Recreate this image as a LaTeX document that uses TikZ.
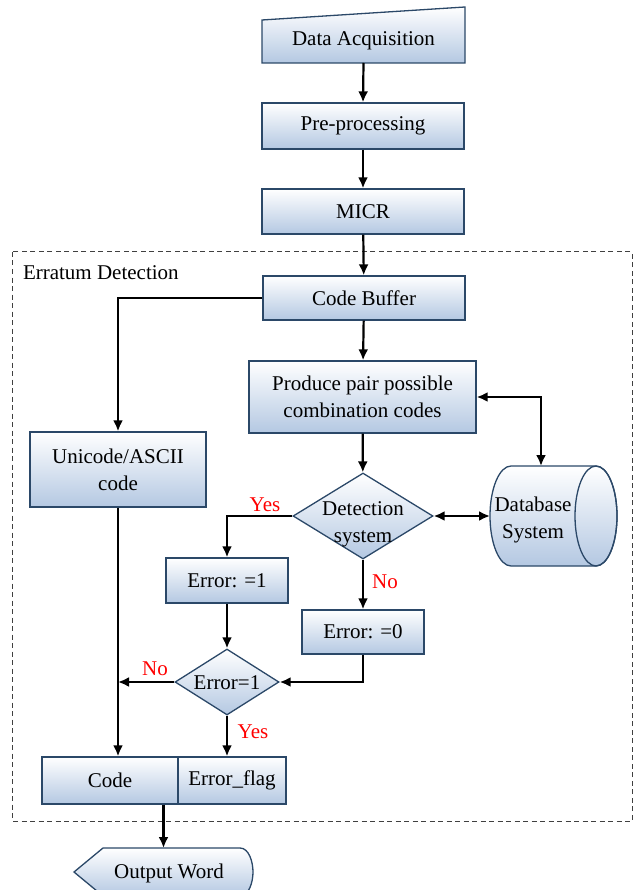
\documentclass[tikz,border=0pt]{standalone}
\usepackage{fontspec}
\setmainfont{Liberation Serif}
\usetikzlibrary{arrows.meta,shapes.geometric}
\definecolor{bord}{HTML}{2B4868}
\definecolor{fillb}{HTML}{B4C8E2}
\definecolor{dashc}{HTML}{404040}
\begin{document}
\begin{tikzpicture}[x=1pt,y=-1pt,
  font=\fontsize{21}{27}\selectfont,
  box/.style={draw=bord, line width=1.3pt, top color=white, bottom color=fillb, inner sep=0pt, align=center},
  ghost/.style={inner sep=0pt, outer sep=0pt},
  arr/.style={line width=2.2pt, -{Latex[length=11pt,width=10pt]}},
  darr/.style={line width=2.2pt, {Latex[length=11pt,width=10pt]}-{Latex[length=11pt,width=10pt]}},
  lab/.style={text=red, inner sep=0pt},
]
\useasboundingbox (0,0) rectangle (633,890);
\clip (0,0) rectangle (633,890);

% container
\draw[dashc, line width=1pt, dash pattern=on 5pt off 3.5pt] (12.5,252) rectangle (632,821);
\node[ghost, anchor=west] (errT) at (23,273) {Erratum Detection};

% Data acquisition (manual input)
\path[box] (262,20) -- (465,7) -- (465,63) -- (262,63) -- cycle;
\node[ghost, minimum width=203, minimum height=56] (da) at (363.5,35) {};
\node[ghost] (daT) at (363.5,41) {Data Acquisition};

\node[box, minimum width=202, minimum height=46] (pre) at (363,126) {Pre-processing};
\node[box, minimum width=202, minimum height=45] (micr) at (363,211.5) {MICR};
\node[box, minimum width=202, minimum height=44] (cb) at (364,298) {Code Buffer};
\node[box, minimum width=227, minimum height=72] (prod) at (362.5,397) {Produce pair possible\\combination codes};
\node[box, minimum width=176, minimum height=75] (uni) at (118,469.5) {Unicode/ASCII\\code};

% detection diamond
\node[box, diamond, minimum width=140, minimum height=86] (det) at (363,516) {};
\node[ghost, align=center] (detT) at (363,524) {Detection\\system};

% database cylinder
\path[box] (511,466) -- (596,466) arc(-90:90:21 and 50) -- (511,566) arc(90:270:21 and 50) -- cycle;
\draw[bord, line width=1.3pt] (596,516) ellipse (21 and 50);
\node[ghost, minimum width=127, minimum height=100] (db) at (553.5,516) {};
\node[ghost, align=center] (dbT) at (533,520) {Database\\System};
\coordinate (dbtop) at (541,466);

\node[box, minimum width=122, minimum height=45] (e1) at (227,580.5) {Error: =1};
\node[box, minimum width=122, minimum height=44] (e0) at (363,632) {Error: =0};
\node[box, diamond, minimum width=104, minimum height=66] (er) at (227,682) {};
\node[ghost] (erT) at (227,683) {Error=1};

\node[box, minimum width=136, minimum height=47] (code) at (110,780.5) {Code};
\node[box, minimum width=108, minimum height=47] (flag) at (232,780.5) {Error\_flag};

% output word (display shape)
\path[box] (74,872) -- (103,848) -- (240,848) .. controls (249,848) and (253,862) .. (253,872)
  .. controls (253,882) and (249,896) .. (240,896) -- (103,896) -- cycle;
\node[ghost, minimum width=179, minimum height=48] (out) at (163.5,872) {};
\node[ghost] (outT) at (169,873) {Output Word};

% connectors
\draw[arr] (da.south) -- (pre.north);
\draw[arr] (pre) -- (micr);
\draw[arr] (micr) -- (cb);
\draw[arr] (cb.west) -| (uni.north);
\draw[arr] (cb) -- (prod);
\draw[arr] (prod) -- (det);
\draw[darr] (prod.east) -| (dbtop);
\draw[darr] (det.east) -- (db.west);
\draw[arr] (det.west) -| (e1.north);
\draw[arr] (det.south) -- (e0.north);
\draw[arr] (e1) -- (er);
\draw[arr] (e0.south) |- (er.east);
\draw[arr] (er.west) -- (er.west -| uni.south);
\draw[arr] (uni.south) -- (uni.south |- code.north);
\draw[arr] (er.south) -- (er.south |- flag.north);
\draw[arr] (out.north |- code.south) -- (out.north);

% labels
\node[lab] (yes1) at (265,505) {Yes};
\node[lab] (no1) at (385,582) {No};
\node[lab] (no2) at (155,669) {No};
\node[lab] (yes2) at (253,732) {Yes};
\end{tikzpicture}
\end{document}
